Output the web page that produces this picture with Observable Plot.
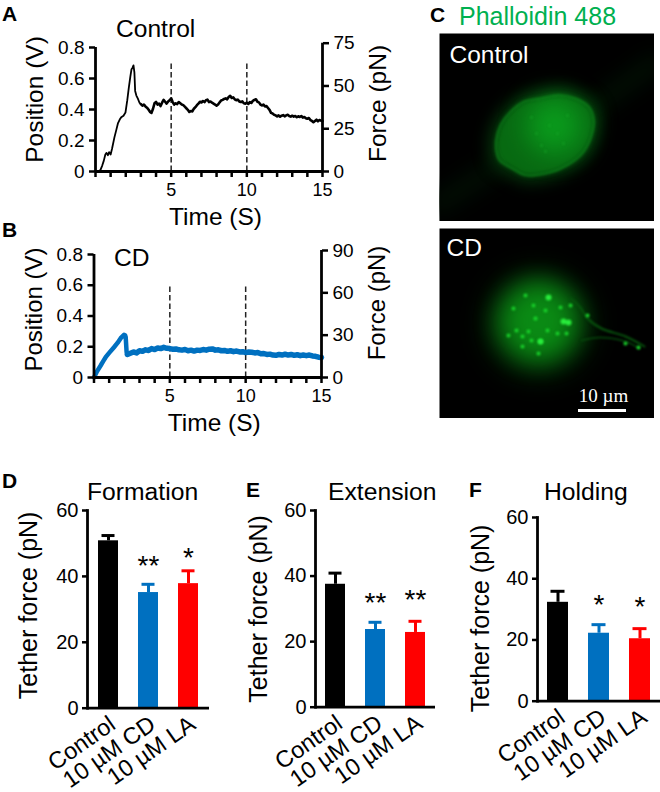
<!DOCTYPE html>
<html><head><meta charset="utf-8">
<script src="https://cdn.jsdelivr.net/npm/d3@7"></script>
<script src="https://cdn.jsdelivr.net/npm/@observablehq/plot@0.6"></script>
<style>
html,body{margin:0;padding:0;background:#fff;overflow:hidden}
#page{position:relative;width:660px;height:792px;overflow:hidden;font-family:"Liberation Sans",Arial,sans-serif;color:#000}
#page svg{position:absolute;background:transparent;max-width:none}
.t{position:absolute;line-height:1;white-space:nowrap}
</style></head><body><div id="page"></div>
<script>
// Panel A trace: rise and peak, time (s) / position (V)
const riseTimeA = [0,.2,.33,.45,.55,.65,.73,.82,.9,1,
 1.1,1.25,1.38,1.48,1.6,1.7,1.85,1.98,2.1,2.2,
 2.3,2.38,2.45,2.51,2.57,2.62,2.7,2.8,2.9,3];
const risePosA = [0,.002,.01,.04,.07,.11,.12,.105,.125,.11,
 .15,.22,.27,.31,.335,.35,.36,.38,.46,.54,
 .61,.66,.67,.685,.64,.52,.49,.47,.445,.435];
// Panel A trace: plateau, read every 0.1 s from t = 3 to 15
const plateauPosA = [.435,.425,.432,.42,.412,.40,.385,.378,.405,.44,
 .449,.432,.438,.422,.444,.462,.45,.438,.452,.46,
 .472,.448,.432,.44,.435,.448,.44,.432,.428,.418,
 .408,.398,.384,.39,.388,.405,.415,.428,.438,.45,
 .445,.455,.448,.46,.464,.448,.452,.444,.438,.432,
 .425,.432,.446,.458,.462,.468,.472,.466,.48,.488,
 .474,.478,.466,.46,.464,.452,.448,.452,.44,.438,
 .444,.436,.448,.442,.456,.462,.466,.45,.446,.432,
 .426,.432,.42,.422,.41,.398,.378,.374,.366,.362,
 .356,.362,.354,.36,.364,.356,.362,.366,.358,.354,
 .36,.354,.358,.35,.356,.352,.358,.348,.352,.344,
 .34,.345,.332,.326,.318,.326,.334,.324,.332,.328,.326];
// Panel B trace: rise and drop
const riseTimeB = [0,.2,.44,.6,.77,1,1.32,1.55,1.76,1.98,2.05,2.09,2.15,2.2];
const risePosB = [0,.04,.078,.105,.132,.16,.197,.225,.256,.278,.275,.262,.165,.15];
// Panel B trace: plateau, read every 0.2 s from t = 2.2 to 15
const plateauPosB = [.150,.158,.166,.160,.174,.170,.180,.176,.188,.182,
 .192,.188,.196,.190,.188,.184,.186,.180,.178,.182,
 .174,.178,.172,.178,.176,.182,.178,.184,.186,.178,
 .180,.174,.176,.170,.174,.168,.172,.166,.168,.162,
 .166,.164,.160,.162,.154,.156,.150,.152,.146,.144,
 .150,.146,.152,.146,.150,.144,.148,.142,.146,.142,
 .146,.140,.138,.132,.130];
const posTicks = [0,.2,.4,.6,.8];
const forceTicksA = [0,25,50,75];
const forceTicksB = [0,30,60,90];
const timeTicks = d3.range(0,16);
const dashedTimes = [5,10];

// Bars
const groups = ["Control","10 µM CD","10 µM LA"];
const barColors = ["#000000","#0070c0","#ff0000"];
const formationMean = [50.8,35.1,37.8], formationTop = [52.4,37.6,41.7], formationStars = ["","**","*"], formationStarY = [0,45.4,47.6];
const extensionMean = [37.5,23.7,22.8], extensionTop = [40.9,25.9,26.2], extensionStars = ["","**","**"], extensionStarY = [0,34,34.7];
const holdingMean = [32.3,22.2,20.4], holdingTop = [35.9,25,23.7], holdingStars = ["","*","*"], holdingStarY = [0,33.6,32.9];
const forceBarTicks = [0,20,40,60];

// Micrograph outlines and spots, in image units
const ctrlOutlineX = [56.7,61,71,84.3,101,119.3,136,149.3,154.3,151,142.7,127.7,109.3,86,72.7,60,56.7];
const ctrlOutlineY = [106.7,91.7,78.3,68.3,65,61.7,65,73.3,86.7,105,120,131.7,139.3,141.7,135,126.7,116.7];
const ctrlSpecksX = [118,97,102,128,110,124,92,106];
const ctrlSpecksY = [100,100,112,82,92,110,84,118];
const cdSpotsX = [96,101,92,83,69,77,127,118,74,86,94,121,131,83,99,108,96,106,199,186,148,89];
const cdSpotsY = [90,113,112,108,107,102,105,105,80,67,77,79,77,118,125,102,90,82,119,115,87,103];
const cdBigSpotsX = [109,124,129,101];
const cdBigSpotsY = [69,93,94,113];
const cdTailX = [131,140,148,162,186,205], cdTailY = [70,78,90,100,108,118];
const cdTail2X = [142,160,186,200], cdTail2Y = [112,109,113,120];

const page = document.getElementById("page");
const FONT = '"Liberation Sans",Arial,sans-serif';
const MID = {textAnchor:"middle",lineAnchor:"middle"};
function put(svg, left, top){ svg.style.left = left+"px"; svg.style.top = top+"px"; page.appendChild(svg); }
function label(str, x, base, size, opts={}){
  const d = document.createElement("div"); d.className="t"; d.textContent=str;
  d.style.left=x+"px"; d.style.top=(base-0.8465*size)+"px"; d.style.fontSize=size+"px";
  if(opts.bold) d.style.fontWeight="bold"; if(opts.color) d.style.color=opts.color;
  page.appendChild(d);
}
function trace(c){
  const k = c.forceMax/c.forceTop; // pN per position unit
  const rise = c.riseT.map((t,i)=>({t,p:c.riseP[i]}));
  const plateau = c.plateau.map((p,i)=>({t:c.t0+i*c.step,p}));
  const svg = Plot.plot({
    width:c.x1+78, height:c.y0+60-c.top, marginLeft:c.x0, marginRight:78, marginTop:c.y8-c.top, marginBottom:60,
    style:{fontFamily:FONT,color:"#000",background:"transparent",overflow:"visible"},
    x:{domain:[0,15],axis:null}, y:{domain:[0,.8],axis:null},
    marks:[
      Plot.ruleX(dashedTimes,{y1:0,y2:c.dashTop,stroke:"#222",strokeWidth:1.5,strokeDasharray:"5.5,3"}),
      Plot.line(rise,{x:"t",y:"p",stroke:c.color,strokeWidth:c.swRise}),
      Plot.line(plateau,{x:"t",y:"p",stroke:c.color,strokeWidth:c.sw}),
      Plot.ruleX([0],{y1:0,y2:.8,strokeWidth:2.8}),
      Plot.ruleX([15],{y1:0,y2:c.forceTop,strokeWidth:2.8}),
      Plot.ruleY([0],{strokeWidth:2.8}),
      Plot.axisY({ticks:posTicks,tickFormat:d=>d===0?"0":d.toFixed(1),tickSize:6,tickPadding:5,strokeWidth:2.5,fontSize:19,label:null,anchor:"left"}),
      Plot.axisY({ticks:c.forceTicks.map(f=>f/k),tickFormat:d=>String(Math.round(d*k)),tickSize:6,tickPadding:5,strokeWidth:2.5,fontSize:19,label:null,anchor:"right"}),
      Plot.axisX({ticks:timeTicks,tickFormat:d=>d>0&&d%5===0?d:"",tickSize:6,tickPadding:6,strokeWidth:2.5,fontSize:18,label:null}),
      Plot.text(["Position (V)"],{frameAnchor:"left",rotate:-90,dx:-60,dy:c.posDy,fontSize:c.lab,...MID}),
      Plot.text(["Force (pN)"],{frameAnchor:"right",rotate:-90,dx:56,dy:c.forceDy,fontSize:c.lab,...MID}),
      Plot.text(["Time (S)"],{frameAnchor:"bottom",dx:6.5,dy:46,fontSize:24.5,...MID})
    ]
  });
  put(svg,0,c.top);
}
trace({riseT:riseTimeA,riseP:risePosA,plateau:plateauPosA,t0:3,step:.1,color:"#000",swRise:1.8,sw:2.6,x0:95,x1:322,y0:171,y8:47,top:25,dashTop:.70,forceMax:75,forceTop:.8277,forceTicks:forceTicksA,posDy:-10,forceDy:-6,lab:24.5});
trace({riseT:riseTimeB,riseP:risePosB,plateau:plateauPosB,t0:2.2,step:.2,color:"#0070c0",swRise:4.5,sw:5.5,x0:93.5,x1:321,y0:377,y8:254,top:235,dashTop:.6,forceMax:90,forceTop:.826,forceTicks:forceTicksB,posDy:-6.5,forceDy:-13,lab:24});

function bars(c){
  const rows = groups.map((g,i)=>({g,m:c.mean[i],top:c.top[i],s:c.stars[i],sy:c.starY[i],col:barColors[i]}));
  const svg = Plot.plot({
    width:c.x1-c.left+4, height:792-c.ptop, marginLeft:c.x0-c.left, marginRight:4, marginTop:c.y60-c.ptop, marginBottom:792-c.y0,
    style:{fontFamily:FONT,color:"#000",background:"transparent",overflow:"visible"},
    x:{domain:groups,paddingInner:.5,paddingOuter:c.po,align:.5,axis:null},
    y:{domain:[0,60],axis:null},
    color:{type:"identity"},
    marks:[
      Plot.barY(rows,{x:"g",y:"m",fill:"col"}),
      Plot.ruleX(rows,{x:"g",y1:"m",y2:"top",stroke:"col",strokeWidth:3}),
      Plot.tickY(rows,{x:"g",y:"top",stroke:"col",strokeWidth:3,insetLeft:3.5,insetRight:3.5}),
      Plot.ruleY([0],{strokeWidth:2.8}),
      Plot.frame({anchor:"left",stroke:"#000",strokeWidth:2.8}),
      Plot.axisY({ticks:forceBarTicks,tickSize:5,tickPadding:4,strokeWidth:2.5,fontSize:20,label:null}),
      Plot.axisX({tickSize:0,tickRotate:-35,tickPadding:6,fontSize:23.5,label:null,lineAnchor:"top",dx:-1}),
      Plot.text(rows.filter(r=>r.s),{x:"g",y:"sy",text:"s",fontSize:28,dy:7,...MID}),
      Plot.text(["Tether force (pN)"],{frameAnchor:"left",rotate:-90,dx:c.labDx,dy:c.labDy,fontSize:25,...MID})
    ]
  });
  put(svg,c.left,c.ptop);
}
bars({mean:formationMean,top:formationTop,stars:formationStars,starY:formationStarY,x0:87,x1:209,left:0,ptop:490,y0:707.7,y60:510,po:.238,labDx:-59,labDy:-4});
bars({mean:extensionMean,top:extensionTop,stars:extensionStars,starY:extensionStarY,x0:315,x1:435,left:232,ptop:490,y0:706.7,y60:510,po:.23,labDx:-57,labDy:0});
bars({mean:holdingMean,top:holdingTop,stars:holdingStars,starY:holdingStarY,x0:537,x1:660,left:456,ptop:490,y0:700.7,y60:517,po:.25,labDx:-57,labDy:9});

// Micrographs
function zip(xs,ys){return xs.map((x,i)=>({x,y:ys[i]}));}
const ctrlOutline = zip(ctrlOutlineX,ctrlOutlineY);
const ctrlImg = Plot.plot({
  width:215,height:188,margin:0,x:{domain:[0,215],axis:null},y:{domain:[188,0],axis:null},
  style:{fontFamily:FONT,background:"transparent"},
  marks:[
    Plot.frame({fill:"#000",stroke:"none"}),
    Plot.line([{x:0,y:170},{x:70,y:125}],{x:"x",y:"y",stroke:"#010e03",strokeWidth:20,imageFilter:"blur(10px)"}),
    Plot.line([{x:145,y:80},{x:215,y:30}],{x:"x",y:"y",stroke:"#010e03",strokeWidth:20,imageFilter:"blur(10px)"}),
    Plot.line(ctrlOutline,{x:"x",y:"y",curve:"catmull-rom-closed",fill:"#04350a",stroke:"#04350a",strokeWidth:14,imageFilter:"blur(8px)"}),
    Plot.line(ctrlOutline,{x:"x",y:"y",curve:"catmull-rom-closed",fill:"#086a12",stroke:"none",imageFilter:"blur(2.5px)"}),
    Plot.dot([{x:115,y:92}],{x:"x",y:"y",r:28,fill:"#0a9a1c",imageFilter:"blur(13px)"}),
    Plot.line(ctrlOutline,{x:"x",y:"y",curve:"catmull-rom-closed",stroke:"#129a22",strokeWidth:1.6,strokeOpacity:.6,imageFilter:"blur(1.2px)"}),
    Plot.dot(zip(ctrlSpecksX,ctrlSpecksY),{x:"x",y:"y",r:1.1,fill:"#17a828",imageFilter:"blur(.8px)"}),
    Plot.text(["Control"],{frameAnchor:"top-left",dx:10,dy:12,lineAnchor:"top",textAnchor:"start",fill:"#fff",fontSize:24.5})
  ]
});
put(ctrlImg,439,33);
const cdImg = Plot.plot({
  width:215,height:190,margin:0,x:{domain:[0,215],axis:null},y:{domain:[190,0],axis:null},
  style:{fontFamily:FONT,background:"transparent"},
  marks:[
    Plot.frame({fill:"#000",stroke:"none"}),
    Plot.dot([{x:99,y:95}],{x:"x",y:"y",r:50,fill:"#043a08",imageFilter:"blur(14px)"}),
    Plot.dot([{x:99,y:93}],{x:"x",y:"y",r:38,fill:"#0a8a14",imageFilter:"blur(12px)"}),
    Plot.line(zip(cdTailX,cdTailY),{x:"x",y:"y",stroke:"#07540d",strokeWidth:2,curve:"catmull-rom",imageFilter:"blur(1.3px)"}),
    Plot.line(zip(cdTail2X,cdTail2Y),{x:"x",y:"y",stroke:"#064a0c",strokeWidth:1.6,curve:"catmull-rom",imageFilter:"blur(1.2px)"}),
    Plot.dot(zip(cdSpotsX,cdSpotsY),{x:"x",y:"y",r:2,fill:"#18d02a",imageFilter:"blur(1px)"}),
    Plot.dot(zip(cdBigSpotsX,cdBigSpotsY),{x:"x",y:"y",r:3,fill:"#28ec3c",imageFilter:"blur(.9px)"}),
    Plot.text(["CD"],{frameAnchor:"top-left",dx:7,dy:10,lineAnchor:"top",textAnchor:"start",fill:"#fff",fontSize:24.5}),
    Plot.ruleY([182],{x1:139,x2:187,stroke:"#fff",strokeWidth:3}),
    Plot.text(["10 µm"],{x:()=>164,y:()=>167,fill:"#fff",fontSize:19,fontFamily:'"Liberation Serif",serif'})
  ]
});
put(cdImg,439,228);

// Panel letters and titles
label("A",2,21,21,{bold:1}); label("B",2,237,21,{bold:1}); label("C",430,22,21,{bold:1});
label("D",2,488,21,{bold:1}); label("E",246,497,21,{bold:1}); label("F",469,497,21,{bold:1});
label("Control",116,38,24.6); label("CD",114,267,24.6);
label("Phalloidin 488",459,25,25,{color:"#00b050"});
label("Formation",87,501,24.7); label("Extension",328,501,24.7); label("Holding",544,501,24.7);
</script></body></html>
